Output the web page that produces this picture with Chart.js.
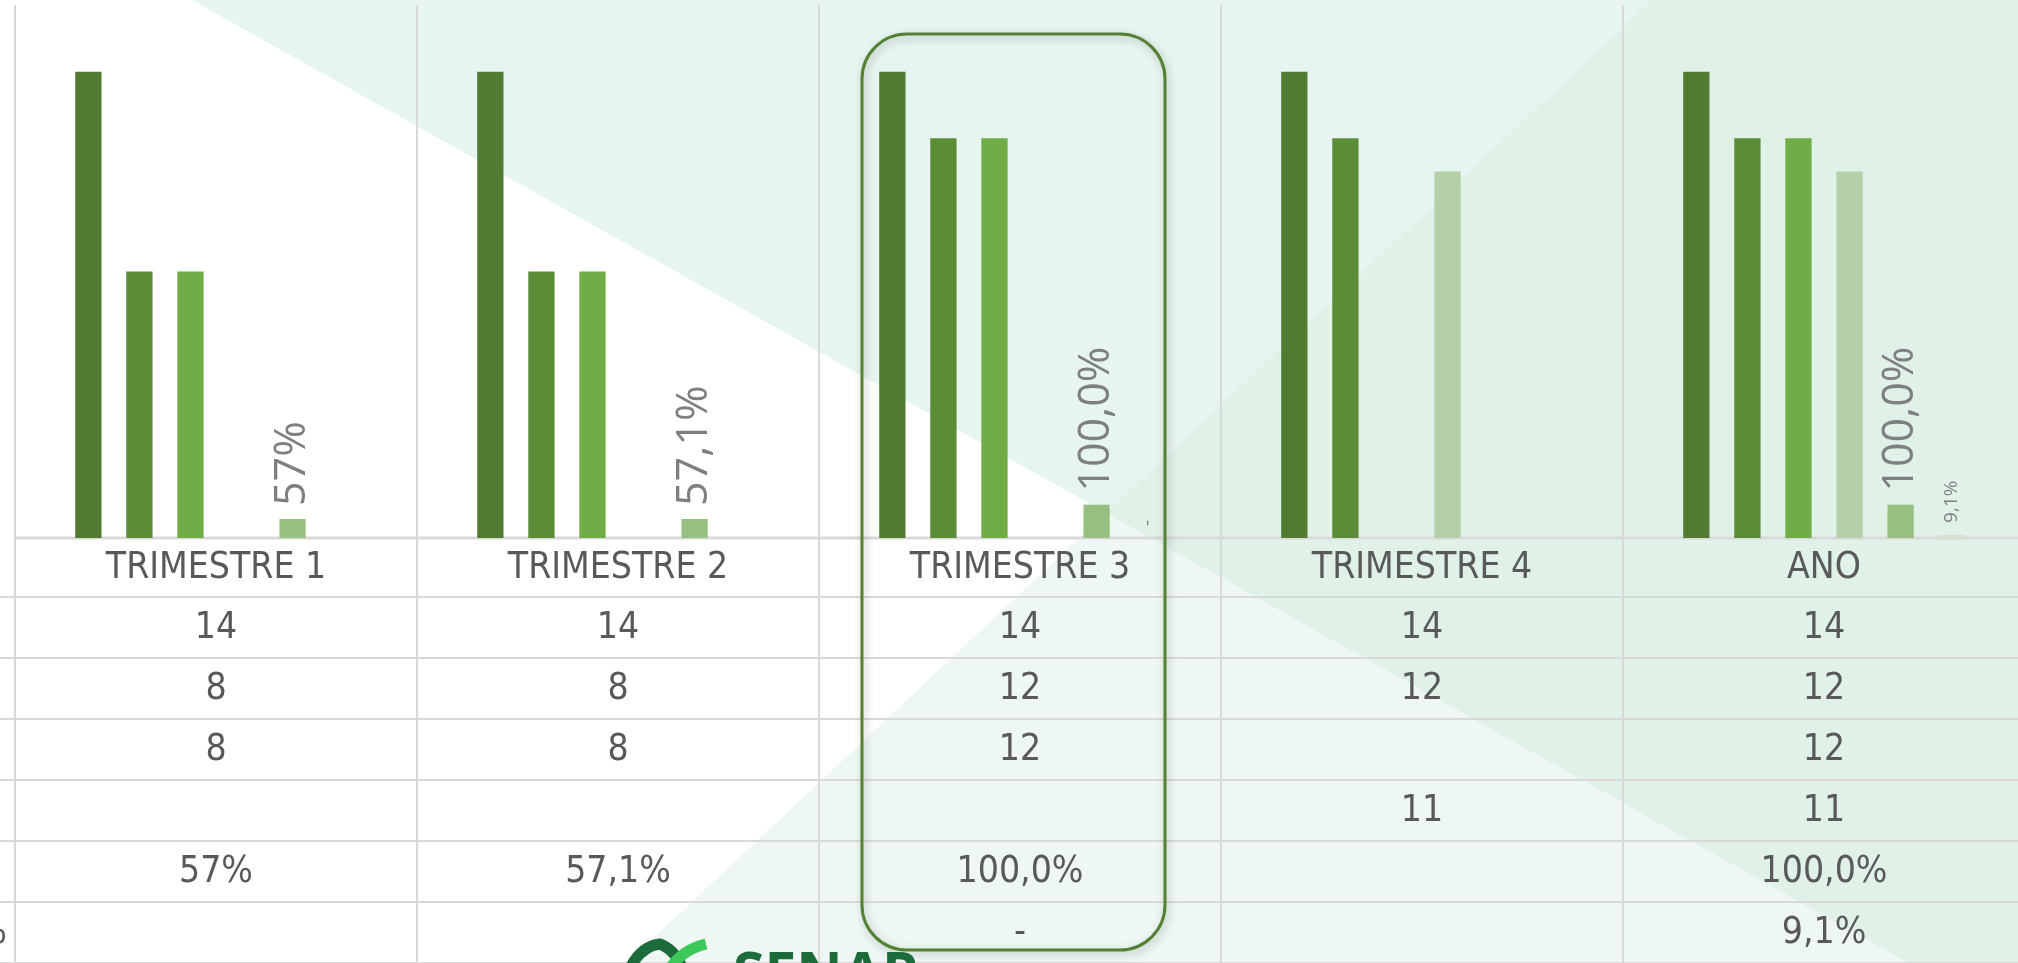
<!DOCTYPE html>
<html>
<head>
<meta charset="utf-8">
<script src="https://cdn.jsdelivr.net/npm/chart.js@4.4.0/dist/chart.umd.min.js"></script>
<style>
    html, body { margin: 0; padding: 0; overflow: hidden; background: #fff; }
    #wrap { position: relative; width: 2040px; height: 963px; }
</style>
</head>
<body>
<div id="wrap"><canvas id="trimestreChart"></canvas></div>
<script>
// Dados
const categorias = ['TRIMESTRE 1', 'TRIMESTRE 2', 'TRIMESTRE 3', 'TRIMESTRE 4', 'ANO'];
const serie1 = [14, 14, 14, 14, 14];
const serie2 = [8, 8, 12, 12, 12];
const serie3 = [8, 8, 12, null, 12];
const serie4 = [null, null, null, 11, 11];
const serie5 = [0.57, 0.571, 1.0, null, 1.0];
const serie6 = [null, null, 0, null, 0.091];
// casas decimais do formato percentual
const casas5 = [0, 1, 1, null, 1];
const casas6 = [null, null, 1, null, 1];
const eixoMax = 16;

const cores = ['#507B30', '#5B8D39', '#70AD47', '#B5CFA8', '#98BF82', '#D3E3CC'];
const fonteTabela = "'Liberation Sans Narrow', 'DejaVu Sans Condensed', sans-serif";
const fonteRotulo = "'Open Sans', sans-serif";

function formatNum(v) {
    return (v === null || v === undefined) ? '' : String(v);
}

function formatPct(v, d) {
    if (v === null || v === undefined) return '';
    if (v === 0) return '-';
    return (v * 100).toFixed(d).replace('.', ',') + '%';
}

const linhasTabela = [
    categorias.map(function(c) { return c; }),
    serie1.map(formatNum),
    serie2.map(formatNum),
    serie3.map(formatNum),
    serie4.map(formatNum),
    serie5.map(function(v, i) { return formatPct(v, casas5[i]); }),
    serie6.map(function(v, i) { return formatPct(v, casas6[i]); })
];

// fundo com triangulos
const fundoPlugin = {
    id: 'fundo',
    beforeDraw: function(chart) {
        const ctx = chart.ctx;
        const W = chart.width, H = chart.height;
        function poly(pts, cor) {
            ctx.beginPath();
            ctx.moveTo(pts[0][0], pts[0][1]);
            for (let i = 1; i < pts.length; i++) ctx.lineTo(pts[i][0], pts[i][1]);
            ctx.closePath();
            ctx.fillStyle = cor;
            ctx.fill();
        }
        ctx.save();
        ctx.fillStyle = '#FFFFFF';
        ctx.fillRect(0, 0, W, H);
        poly([[192, 0], [W, 0], [W, (W - 192) * 0.561]], '#E7F5F1');
        poly([[627, 963], [1652, 0], [W, 0], [W, H], [627, H]], '#EEF7F4');
        poly([[1106, 513], [1652, 0], [W, 0], [W, (W - 192) * 0.561]], '#E0F1E8');
        ctx.restore();
    }
};

// grade e tabela de dados
const tabelaPlugin = {
    id: 'tabela',
    beforeDatasetsDraw: function(chart) {
        const ctx = chart.ctx;
        const xs = chart.scales.x;
        const area = chart.chartArea;
        const n = categorias.length;
        const larg = (xs.right - xs.left) / n;
        const H = chart.height;
        const tops = [area.bottom, area.bottom + 59];
        for (let k = 1; k < linhasTabela.length; k++) tops.push(tops[k] + 61);

        ctx.save();
        ctx.strokeStyle = '#D9D9D9';
        ctx.lineWidth = 2;
        for (let i = 0; i <= n; i++) {
            const x = Math.round(xs.left + i * larg);
            ctx.beginPath();
            ctx.moveTo(x, area.top);
            ctx.lineTo(x, H);
            ctx.stroke();
        }
        for (let k = 1; k < tops.length; k++) {
            ctx.beginPath();
            ctx.moveTo(0, tops[k]);
            ctx.lineTo(chart.width, tops[k]);
            ctx.stroke();
        }
        ctx.lineWidth = 3;
        ctx.beginPath();
        ctx.moveTo(area.left, area.bottom);
        ctx.lineTo(chart.width, area.bottom);
        ctx.stroke();

        ctx.fillStyle = '#595959';
        ctx.font = '37px ' + fonteTabela;
        ctx.textAlign = 'center';
        ctx.textBaseline = 'middle';
        for (let k = 0; k < linhasTabela.length; k++) {
            const yc = (tops[k] + tops[k + 1]) / 2 + 1;
            for (let i = 0; i < n; i++) {
                ctx.fillText(linhasTabela[k][i], xs.getPixelForValue(i), yc);
            }
        }
        // sobra do rotulo da ultima linha, cortado na borda
        ctx.textAlign = 'right';
        ctx.fillText('%', 7, (tops[6] + tops[7]) / 2 + 1);
        ctx.restore();
    },
    afterDatasetsDraw: function(chart) {
        const ctx = chart.ctx;
        const conf = [
            { ds: 4, casas: casas5, size: 43, gap: 13 },
            { ds: 5, casas: casas6, size: 19, gap: 12 }
        ];
        ctx.save();
        ctx.fillStyle = '#7F7F7F';
        ctx.textAlign = 'left';
        ctx.textBaseline = 'middle';
        conf.forEach(function(c) {
            const meta = chart.getDatasetMeta(c.ds);
            const dados = chart.data.datasets[c.ds].data;
            ctx.font = c.size + 'px ' + fonteRotulo;
            meta.data.forEach(function(bar, i) {
                const txt = formatPct(dados[i], c.casas[i]);
                if (!txt) return;
                ctx.save();
                ctx.translate(bar.x, bar.y - c.gap);
                ctx.rotate(-Math.PI / 2);
                ctx.fillText(txt, 0, 0);
                ctx.restore();
            });
        });
        ctx.restore();
    },
    afterDraw: function(chart) {
        const ctx = chart.ctx;
        const xs = chart.scales.x;
        const cx = xs.getPixelForValue(2);

        // destaque do trimestre 3
        ctx.save();
        ctx.shadowColor = 'rgba(0,0,0,0.28)';
        ctx.shadowBlur = 8;
        ctx.shadowOffsetX = 2;
        ctx.shadowOffsetY = 3;
        ctx.strokeStyle = '#548235';
        ctx.lineWidth = 3;
        ctx.beginPath();
        ctx.roundRect(cx - 158, 34, 303, 916, 45);
        ctx.stroke();
        ctx.restore();

        // logo (cortado na base)
        ctx.save();
        ctx.lineCap = 'butt';
        ctx.lineWidth = 11;
        ctx.strokeStyle = '#1C6B3B';
        ctx.beginPath();
        ctx.moveTo(628, 972);
        ctx.quadraticCurveTo(640, 946, 660, 944);
        ctx.quadraticCurveTo(676, 950, 684, 972);
        ctx.stroke();
        ctx.strokeStyle = '#3CC95A';
        ctx.beginPath();
        ctx.moveTo(668, 972);
        ctx.quadraticCurveTo(680, 950, 706, 944);
        ctx.stroke();
        ctx.fillStyle = '#1C6B3B';
        ctx.font = 'bold 57px ' + fonteRotulo;
        ctx.textAlign = 'left';
        ctx.textBaseline = 'alphabetic';
        ctx.fillText('SENAR', 733, 993);
        ctx.restore();
    }
};

function initializeTrimestreChart() {
    const canvas = document.getElementById('trimestreChart');
    if (!canvas) return;

    const series = [serie1, serie2, serie3, serie4, serie5, serie6];
    new Chart(canvas, {
        type: 'bar',
        data: {
            labels: categorias,
            datasets: series.map(function(s, i) {
                return {
                    label: 'Série ' + (i + 1),
                    data: s,
                    backgroundColor: cores[i],
                    borderWidth: 0,
                    categoryPercentage: 0.762,
                    barPercentage: 0.515
                };
            })
        },
        options: {
            responsive: true,
            maintainAspectRatio: false,
            animation: false,
            layout: {
                padding: { left: 15, right: 15, top: 5, bottom: 425 }
            },
            scales: {
                x: { display: false },
                y: { display: false, min: 0, max: eixoMax }
            },
            plugins: {
                legend: { display: false },
                tooltip: { enabled: false }
            }
        },
        plugins: [fundoPlugin, tabelaPlugin]
    });
}

document.addEventListener('DOMContentLoaded', function() {
    initializeTrimestreChart();
});
</script>
</body>
</html>
